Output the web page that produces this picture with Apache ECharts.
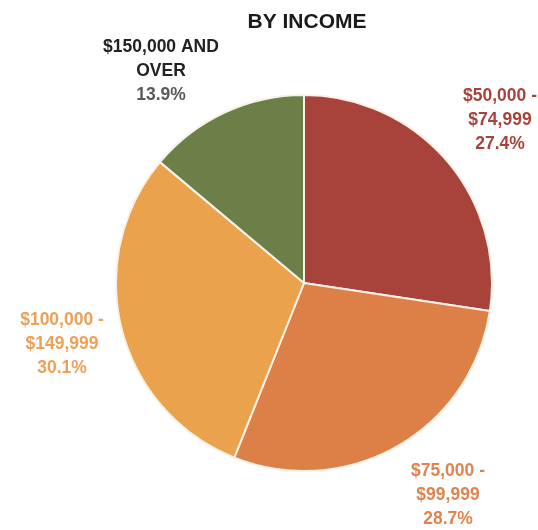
<!DOCTYPE html>
<html>
<head>
<meta charset="utf-8">
<script src="https://cdn.jsdelivr.net/npm/echarts@6/dist/echarts.min.js"></script>
<style>
  html, body { margin: 0; padding: 0; background: #fff; }
  #chart { width: 538px; height: 530px; }
</style>
</head>
<body>
<div id="chart"></div>
<script>
// Household income groups and their shares (%)
const categories = ['$50,000 -\n$74,999', '$75,000 -\n$99,999', '$100,000 -\n$149,999', '$150,000 AND\nOVER'];
const shares = [27.4, 28.7, 30.1, 13.9];
const sliceColors = ['#A8433B', '#DC8048', '#EAA24C', '#6C7F49'];
const nameColors = ['#A8433B', '#E0834E', '#EDA056', '#222222'];
const valueColors = ['#A8433B', '#E0834E', '#EDA056', '#5a5a5a'];

// Label anchor points (centre of each text block)
const labelSpots = [
  { x: 500, y: 120 },
  { x: 448, y: 495 },
  { x: 62, y: 344 },
  { x: 161, y: 71 }
];

const chart = echarts.init(document.getElementById('chart'));

const font = 'Liberation Sans, Arial, sans-serif';
const rich = {};
categories.forEach((c, i) => {
  rich['n' + i] = { color: nameColors[i], fontSize: 17.5, fontWeight: 'bold', lineHeight: 24, fontFamily: font, align: 'center' };
  rich['v' + i] = { color: valueColors[i], fontSize: 17.5, fontWeight: 'bold', lineHeight: 24, fontFamily: font, align: 'center' };
});

chart.setOption({
  animation: false,
  backgroundColor: '#ffffff',
  title: {
    text: 'BY INCOME',
    left: 302,
    top: 7,
    textAlign: 'center',
    textStyle: { fontSize: 21, fontWeight: 'bold', color: '#1a1a1a', fontFamily: font }
  },
  series: [{
    type: 'pie',
    center: [304, 283],
    radius: 188,
    startAngle: 90,
    clockwise: true,
    data: categories.map((c, i) => ({
      name: c,
      value: shares[i],
      itemStyle: { color: sliceColors[i] }
    })),
    itemStyle: { borderColor: '#f7f1e8', borderWidth: 2 },
    label: {
      show: true,
      position: 'outside',
      overflow: 'none',
      alignTo: 'none',
      formatter: p => {
        const i = p.dataIndex;
        return p.name.split('\n').map(l => '{n' + i + '|' + l + '}').join('\n') +
          '\n{v' + i + '|' + shares[i].toFixed(1) + '%}';
      },
      rich: rich
    },
    labelLine: { show: false },
    labelLayout: p => ({
      x: labelSpots[p.dataIndex].x,
      y: labelSpots[p.dataIndex].y,
      align: 'center',
      verticalAlign: 'middle',
      hideOverlap: false
    })
  }]
});
</script>
</body>
</html>
